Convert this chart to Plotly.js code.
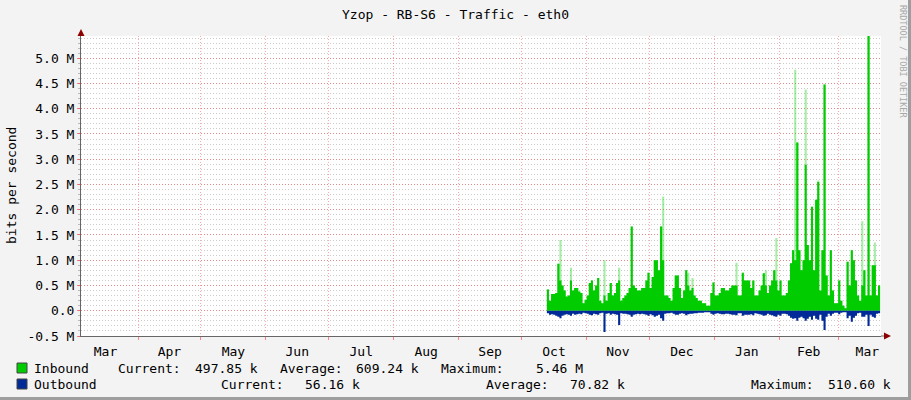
<!DOCTYPE html>
<html><head><meta charset="utf-8">
<script src="https://cdn.plot.ly/plotly-3.0.1.min.js"></script>
<style>html,body{margin:0;padding:0;background:#F3F3F3;overflow:hidden;} #chart{width:911px;height:400px;}</style>
</head><body><div id="chart"></div>
<script>
// ---- data (Mbit/s, one value per day from startDate) ----
const startDate = [2013, 9, 13, 2];   // 2013-10-13 02:00 UTC
const inbound = [
0.42,0.20,0.33,0.33,0.35,0.93,0.60,0.50,0.40,0.28,
0.30,0.60,0.40,0.45,0.45,0.38,0.35,0.15,0.22,0.30,
0.55,0.60,0.40,0.50,0.65,0.20,0.15,0.30,0.20,0.35,
0.55,0.30,0.35,0.55,0.60,0.20,0.25,0.30,0.35,0.45,
1.67,0.50,0.45,0.40,0.40,0.45,0.45,0.60,0.75,0.45,
0.67,1.00,1.00,0.80,1.67,1.00,0.30,0.30,0.25,0.20,
0.45,0.70,0.70,0.45,0.25,0.40,0.80,0.50,0.40,0.45,
0.30,0.25,0.20,0.20,0.15,0.15,0.10,0.10,0.35,0.56,
0.30,0.30,0.35,0.45,0.45,0.40,0.40,0.45,0.50,0.50,
0.50,0.30,0.30,0.75,0.60,0.60,0.60,0.45,0.60,0.30,
0.30,0.40,0.50,0.74,0.50,0.35,0.50,0.60,0.80,0.60,
0.40,0.60,0.30,0.30,0.35,0.60,0.94,1.20,1.00,3.33,
1.20,0.80,1.00,2.89,1.30,1.00,2.06,0.80,2.20,2.55,
0.40,1.20,4.48,0.70,0.30,1.20,0.40,0.15,0.15,0.60,
0.20,0.10,0.05,0.97,0.50,1.20,1.00,0.60,0.30,0.20,
0.50,0.80,0.30,5.46,0.30,0.90,0.90,0.30,0.50,0.50];
const inPeak = [
0.42,0.20,0.33,0.33,0.35,0.93,1.40,0.50,0.40,0.28,
0.30,0.85,0.40,0.45,0.45,0.38,0.35,0.15,0.22,0.30,
0.55,0.60,0.40,0.50,0.65,0.20,0.15,1.00,0.20,0.35,
0.55,0.30,0.35,0.55,0.85,0.20,0.25,0.30,0.35,0.45,
1.67,0.50,0.45,0.40,0.40,0.45,0.45,0.60,0.75,0.45,
0.67,1.00,1.00,0.80,1.67,2.26,0.30,0.30,0.25,0.20,
0.45,0.70,0.70,0.45,0.25,0.40,0.80,0.75,0.40,0.65,
0.30,0.25,0.20,0.20,0.15,0.15,0.10,0.10,0.35,0.56,
0.30,0.30,0.35,0.45,0.45,0.40,0.40,0.45,0.50,0.50,
0.95,0.30,0.30,0.75,0.60,0.60,0.60,0.45,0.60,0.30,
0.30,0.40,0.50,0.74,0.80,0.35,0.50,0.60,0.80,1.44,
0.40,0.60,0.30,0.30,0.35,0.60,0.94,1.20,4.77,3.33,
1.20,0.80,1.00,4.38,1.30,1.00,2.06,0.80,2.20,2.58,
0.40,1.20,4.48,0.70,0.30,1.20,0.40,0.15,0.15,0.60,
0.20,0.10,0.05,0.97,0.50,1.20,1.00,0.60,0.30,0.20,
1.77,0.80,0.30,5.46,0.30,0.90,1.35,0.30,0.50,0.50];
const outbound = [
0.05,0.08,0.07,0.08,0.10,0.12,0.15,0.10,0.08,0.07,
0.08,0.10,0.06,0.08,0.07,0.06,0.07,0.04,0.05,0.06,
0.08,0.09,0.06,0.07,0.08,0.05,0.04,0.42,0.06,0.05,
0.08,0.06,0.07,0.08,0.28,0.05,0.06,0.06,0.07,0.08,
0.12,0.08,0.07,0.06,0.07,0.06,0.07,0.08,0.10,0.07,
0.09,0.12,0.10,0.08,0.15,0.20,0.06,0.05,0.05,0.04,
0.06,0.08,0.08,0.06,0.05,0.06,0.09,0.07,0.06,0.06,
0.05,0.05,0.04,0.04,0.04,0.03,0.03,0.03,0.06,0.08,
0.06,0.05,0.06,0.07,0.07,0.06,0.06,0.07,0.08,0.08,
0.09,0.05,0.05,0.10,0.08,0.08,0.08,0.07,0.09,0.05,
0.06,0.07,0.08,0.10,0.09,0.06,0.08,0.09,0.11,0.12,
0.08,0.10,0.06,0.06,0.07,0.10,0.14,0.16,0.15,0.20,
0.14,0.12,0.15,0.20,0.16,0.12,0.18,0.10,0.16,0.18,
0.08,0.20,0.38,0.12,0.06,0.10,0.06,0.04,0.04,0.07,
0.04,0.03,0.03,0.15,0.10,0.22,0.14,0.10,0.05,0.04,
0.12,0.12,0.08,0.30,0.08,0.12,0.14,0.06,0.05,0.056];
const yTickVals = [-0.5,0.0,0.5,1.0,1.5,2.0,2.5,3.0,3.5,4.0,4.5,5.0];
const yTickText = ['-0.5 M','0.0','0.5 M','1.0 M','1.5 M','2.0 M','2.5 M','3.0 M','3.5 M','4.0 M','4.5 M','5.0 M'];
const titleText = 'Yzop - RB-S6 - Traffic - eth0';
const legendRows = [
  {name:'Inbound', color:'#00CC00', cur:'497.85 k', avg:'609.24 k', max:'5.46 M'},
  {name:'Outbound', color:'#002A97', cur:'56.16 k', avg:'70.82 k', max:'510.60 k'}
];

// ---- build ----
const dates = inbound.map((_, i) => {
  const d = new Date(Date.UTC(startDate[0], startDate[1], startDate[2] + i, startDate[3]));
  return d.toISOString().slice(0, 19).replace('T', ' ');
});
const outNeg = outbound.map(v => -v);

const FONT = '"DejaVu Sans Mono", monospace';
const L = 81, T = 36, W = 800, H = 300;
const px = x => (x - L) / W;
const py = y => (T + H - y) / H;

const traces = [
  {x: dates, y: inPeak, type:'scatter', mode:'lines', line:{shape:'hv', width:0, color:'rgba(0,204,0,0)'}, fill:'tozeroy', fillcolor:'rgba(0,204,0,0.35)', hoverinfo:'skip'},
  {x: dates, y: inbound, type:'scatter', mode:'lines', line:{shape:'hv', width:0, color:'rgba(0,204,0,0)'}, fill:'tozeroy', fillcolor:'#00CC00', hoverinfo:'skip'},
  {x: dates, y: outNeg, type:'scatter', mode:'lines', line:{shape:'hv', width:0, color:'rgba(0,42,151,0)'}, fill:'tozeroy', fillcolor:'#002A97', hoverinfo:'skip'}
];

const ann = [];
const shapes = [];
function txt(t, x, y, anchor, extra) {
  ann.push(Object.assign({text:t, xref:'paper', yref:'paper', x:px(x), y:py(y), xanchor:anchor, yanchor:'middle', showarrow:false, font:{family:FONT, size:13, color:'#000'}}, extra || {}));
}
// legend rows
const rowY = [368, 384];
const cols = [
  {cur:117, curV:259, avg:279, avgV:420, max:440, maxV:584},
  {cur:220, curV:361, avg:485, avgV:626, max:750, maxV:892}
];
legendRows.forEach((r, i) => {
  const y = rowY[i], c = cols[i];
  shapes.push({type:'rect', xref:'paper', yref:'paper', x0:px(17), x1:px(27), y0:py(y-5), y1:py(y+5), fillcolor:r.color, line:{color:'#444', width:1}});
  txt(r.name, 32, y, 'left');
  txt('Current:', c.cur - 1, y, 'left');
  txt(r.cur, c.curV + 1, y, 'right');
  txt('Average:', c.avg - 1, y, 'left');
  txt(r.avg, c.avgV + 1, y, 'right');
  txt('Maximum:', c.max - 1, y, 'left');
  txt(r.max, c.maxV + 1, y, 'right');
});
txt('bits per second', 11, 186, 'center', {textangle:-90});
txt('RRDTOOL / TOBI OETIKER', 903, 61, 'center', {textangle:90, font:{family:FONT, size:8.5, color:'#A8A8A8'}});

// axis arrows and frame
shapes.push({type:'path', xref:'paper', yref:'paper', xsizemode:'pixel', ysizemode:'pixel', xanchor:0, yanchor:1, path:'M-3.5,0 L3.5,0 L0,7 Z', fillcolor:'#8B0000', line:{width:0}});
shapes.push({type:'path', xref:'paper', yref:'paper', xsizemode:'pixel', ysizemode:'pixel', xanchor:1, yanchor:0, path:'M0,0 L3,0', line:{color:'#666', width:1}});
shapes.push({type:'path', xref:'paper', yref:'paper', xsizemode:'pixel', ysizemode:'pixel', xanchor:1, yanchor:0, path:'M3,-3.5 L3,3.5 L10,0 Z', fillcolor:'#8B0000', line:{width:0}});
shapes.push({type:'rect', xref:'paper', yref:'paper', x0:px(908), x1:px(912), y0:py(-2), y1:py(401), fillcolor:'#9E9E9E', line:{width:0}});
shapes.push({type:'rect', xref:'paper', yref:'paper', x0:px(-2), x1:px(912), y0:py(397), y1:py(401), fillcolor:'#9E9E9E', line:{width:0}});

const layout = {
  width: 911, height: 400,
  margin: {l: L, r: 911 - L - W, t: T, b: 400 - T - H, pad: 0},
  paper_bgcolor: '#F3F3F3', plot_bgcolor: '#FFFFFF',
  showlegend: false,
  font: {family: FONT, size: 13, color: '#000'},
  title: {text: titleText, x: 0.5, xref: 'container', xanchor: 'center', y: 1 - 14/400, yref: 'container', yanchor: 'middle', font: {family: FONT, size: 13, color: '#000'}},
  xaxis: {
    type: 'date', range: ['2013-03-04 19:16', '2014-03-21 12:20'],
    tick0: '2013-03-01', dtick: 'M1', tickformat: '%b', ticklabelmode: 'period',
    showgrid: true, gridcolor: 'rgba(255,60,60,0.45)', griddash: '1px,2px', gridwidth: 1,
    zeroline: false, showline: true, linecolor: '#666', linewidth: 1,
    ticks: 'outside', ticklen: 3, tickcolor: 'rgba(255,60,60,0.6)',
    tickfont: {family: FONT, size: 13, color: '#000'}, fixedrange: true
  },
  yaxis: {
    range: [-0.5, 5.44], tickmode: 'array', tickvals: yTickVals, ticktext: yTickText,
    showgrid: true, gridcolor: 'rgba(255,60,60,0.45)', griddash: '1px,2px', gridwidth: 1,
    zeroline: false, showline: true, linecolor: '#666', linewidth: 1,
    ticks: 'outside', ticklen: 3, tickcolor: 'rgba(255,60,60,0.6)',
    tickfont: {family: FONT, size: 13, color: '#000'}, fixedrange: true,
    minor: {tickmode: 'linear', tick0: 0, dtick: 0.1, showgrid: true, gridcolor: 'rgba(140,140,140,0.45)', griddash: '1px,2px', gridwidth: 1, ticks: 'outside', ticklen: 2, tickcolor: '#BBBBBB'}
  },
  annotations: ann,
  shapes: shapes
};
Plotly.newPlot('chart', traces, layout, {displayModeBar: false, staticPlot: true});
</script></body></html>
